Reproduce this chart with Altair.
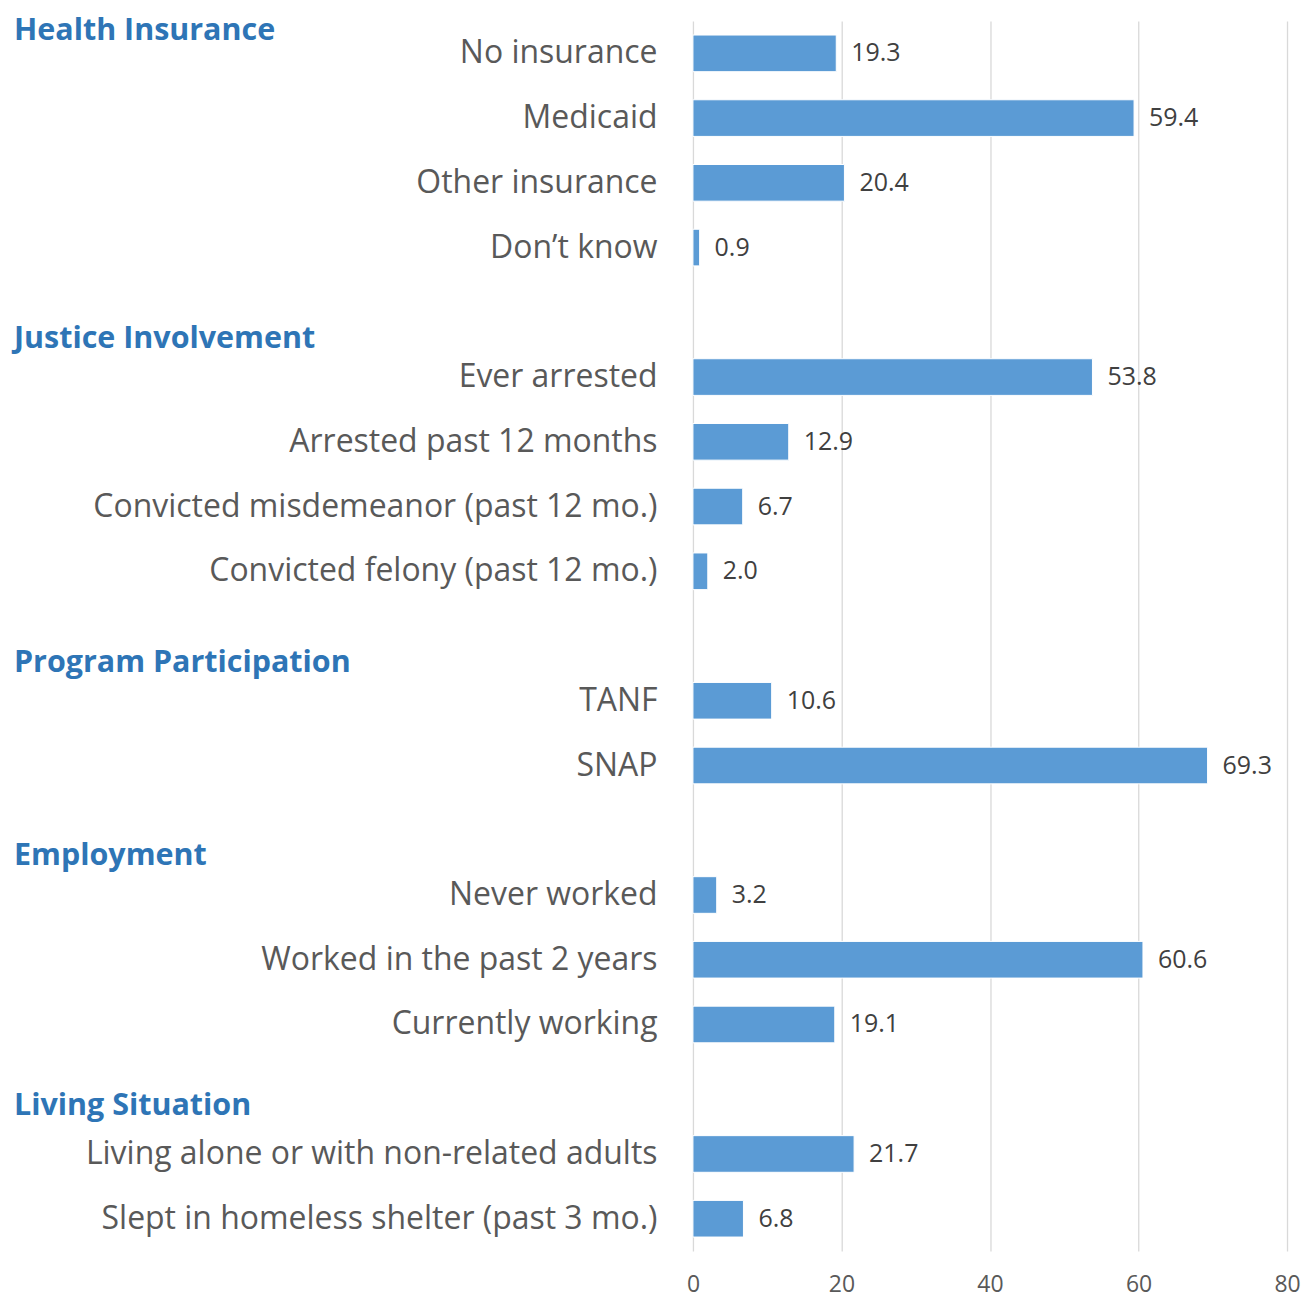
import altair as alt
import pandas as pd

# Rows in display order; "_gapN" entries are empty spacer rows between groups
rows = [
    "No insurance", "Medicaid", "Other insurance", "Don’t know", "_gap1",
    "Ever arrested", "Arrested past 12 months", "Convicted misdemeanor (past 12 mo.)",
    "Convicted felony (past 12 mo.)", "_gap2",
    "TANF", "SNAP", "_gap3",
    "Never worked", "Worked in the past 2 years", "Currently working", "_gap4",
    "Living alone or with non-related adults", "Slept in homeless shelter (past 3 mo.)",
]

categories = [
    "No insurance", "Medicaid", "Other insurance", "Don’t know",
    "Ever arrested", "Arrested past 12 months", "Convicted misdemeanor (past 12 mo.)",
    "Convicted felony (past 12 mo.)",
    "TANF", "SNAP",
    "Never worked", "Worked in the past 2 years", "Currently working",
    "Living alone or with non-related adults", "Slept in homeless shelter (past 3 mo.)",
]
values = [19.3, 59.4, 20.4, 0.9, 53.8, 12.9, 6.7, 2.0, 10.6, 69.3, 3.2, 60.6, 19.1, 21.7, 6.8]

headers = ["Health Insurance", "Justice Involvement", "Program Participation",
           "Employment", "Living Situation"]
header_anchor = ["No insurance", "_gap1", "_gap2", "_gap3", "_gap4"]
header_shift = [-22, 27, 27, 26, 17]

x_ticks = [0, 20, 40, 60, 80]

df = pd.DataFrame({"category": categories, "value": values})

FONT = "Open Sans"
BAR = "#5B9BD5"

yscale = alt.Scale(domain=rows, paddingInner=0.434, paddingOuter=0.217)
y_enc = alt.Y(
    "category:N", scale=yscale, sort=rows, title=None,
    axis=alt.Axis(
        domain=False, ticks=False, grid=False, labelPadding=36,
        labelFontSize=32, labelColor="#595959", labelFont=FONT, labelLimit=800,
        labelExpr="indexof(datum.label, '_gap') == 0 ? '' : datum.label",
    ),
)
x_enc = alt.X(
    "value:Q", title=None,
    scale=alt.Scale(domain=[0, 80], nice=False),
    axis=alt.Axis(
        values=x_ticks, domain=False, ticks=False, grid=True,
        gridColor="#D9D9D9", gridWidth=1.3, labelFontSize=23,
        labelColor="#595959", labelFont=FONT, labelPadding=22,
        labelFlush=False, labelOverlap=False,
    ),
)

bars = alt.Chart(df).mark_bar(color=BAR, stroke="white", strokeWidth=1).encode(x=x_enc, y=y_enc)

labels = alt.Chart(df).mark_text(
    align="left", baseline="middle", dx=15, fontSize=25, font=FONT, color="#404040"
).encode(
    x=alt.X("value:Q"),
    y=alt.Y("category:N", sort=rows),
    text=alt.Text("value:Q", format=".1f"),
)

head_layers = []
for h, a, s in zip(headers, header_anchor, header_shift):
    hdf = pd.DataFrame({"header": [h], "anchor": [a]})
    head_layers.append(
        alt.Chart(hdf).mark_text(
            align="left", baseline="middle", dy=s, fontSize=30.5, fontWeight="bold",
            font=FONT, color="#2E75B6",
        ).encode(
            x=alt.value(-680),
            y=alt.Y("anchor:N", sort=rows),
            text="header:N",
        )
    )

chart = alt.layer(bars, labels, *head_layers).properties(
    width=595, height=1232,
    autosize=alt.AutoSizeParams(type="none"),
    padding={"left": 686, "top": 12, "right": 16, "bottom": 54},
).configure_view(stroke=None)

chart.save("out.html", embed_options={"renderer": "svg", "actions": False})
